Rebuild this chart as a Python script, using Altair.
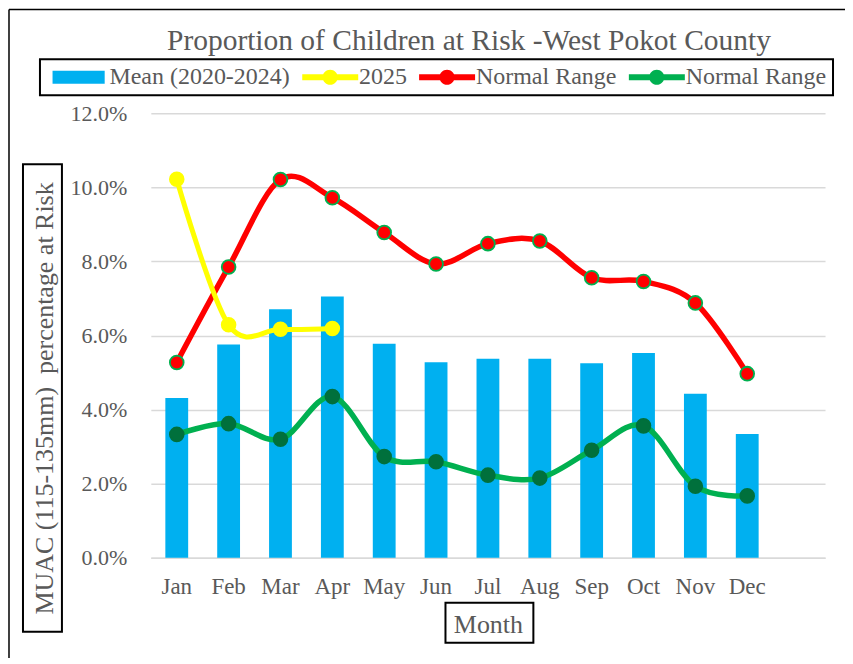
import altair as alt
import pandas as pd

# ---- data ----
months = ["Jan", "Feb", "Mar", "Apr", "May", "Jun", "Jul", "Aug", "Sep", "Oct", "Nov", "Dec"]
mean_2020_2024 = [4.31, 5.76, 6.71, 7.05, 5.78, 5.28, 5.37, 5.37, 5.25, 5.53, 4.43, 3.34]
year_2025 = [10.22, 6.29, 6.17, 6.19]
normal_upper = [5.27, 7.85, 10.21, 9.72, 8.78, 7.93, 8.48, 8.55, 7.56, 7.46, 6.88, 4.97]
normal_lower = [3.33, 3.62, 3.20, 4.35, 2.73, 2.59, 2.23, 2.15, 2.90, 3.56, 1.93, 1.67]

series_keys = ["mean", "y2025", "upper", "lower"]
series_colors = ["#00B0F0", "#FFFF00", "#FF0000", "#00B050"]
point_fill = {"y2025": "#FFFF00", "upper": "#FF0000", "lower": "#00703C"}
point_stroke = {"y2025": "#FFFF00", "upper": "#00B050", "lower": "#00703C"}
x_domain = months + [""]
y_ticks = [0, 0.02, 0.04, 0.06, 0.08, 0.10, 0.12]

FONT = "Liberation Serif"
GREY = "#595959"


def frame(key, values):
    return pd.DataFrame({
        "month": months[:len(values)],
        "value": [v / 100 for v in values],
        "series": key,
        "pfill": point_fill.get(key, ""),
        "pstroke": point_stroke.get(key, ""),
    })


bars_df = frame("mean", mean_2020_2024)
y25_df = frame("y2025", year_2025)
up_df = frame("upper", normal_upper)
lo_df = frame("lower", normal_lower)

rect_path = "M-0.45,-0.54H3.9V0.54H-0.45Z"
line_path = ("M-0.45,-0.25H4.22V0.25H-0.45Z "
             "M2.51,0A0.63,0.63 0 1 1 1.25,0A0.63,0.63 0 1 1 2.51,0Z")

x_enc = alt.X(
    "month:N",
    scale=alt.Scale(domain=x_domain, paddingInner=0.56, paddingOuter=0.28),
    axis=alt.Axis(labelAngle=0, labelFontSize=23, labelColor=GREY, labelFont=FONT,
                  labelPadding=18, ticks=False, domain=True, domainColor="#D9D9D9",
                  domainWidth=1.5, grid=False, titleFontSize=26, titleColor=GREY,
                  titleFont=FONT, titleFontWeight="normal", titleY=75,
                  titleBaseline="alphabetic"),
    title="Month",
)
y_enc = alt.Y(
    "value:Q",
    scale=alt.Scale(domain=[0, 0.12], nice=False),
    axis=alt.Axis(format=".1%", values=y_ticks, labelFontSize=22, labelColor=GREY,
                  labelFont=FONT, labelPadding=24, ticks=False, tickSize=0, domain=False,
                  grid=True, gridColor="#D9D9D9", gridWidth=1.5, titleFontSize=26,
                  titleColor=GREY, titleFont=FONT, titleFontWeight="normal",
                  titleAngle=270, titleAlign="center", titleBaseline="alphabetic",
                  titleX=-98, titleY=285),
    title="MUAC (115-135mm)\u00a0 percentage at Risk",
)

legend = alt.Legend(
    title=None, orient="none", legendX=-111, legendY=-54, direction="horizontal",
    columns=4, symbolType=alt.ExprRef(
        expr=f"datum.value === 'mean' ? '{rect_path}' : '{line_path}'"),
    symbolSize=576, symbolStrokeWidth=0, symbolOpacity=1,
    labelExpr=("datum.value === 'mean' ? 'Mean (2020-2024)' : "
               "datum.value === 'y2025' ? '2025' : 'Normal Range'"),
    labelFontSize=24, labelFont=FONT, labelColor=GREY, labelLimit=400,
    labelOffset=39.5, columnPadding=5, padding=6, strokeColor="black",
)
color_enc = alt.Color("series:N", scale=alt.Scale(domain=series_keys, range=series_colors),
                      legend=legend)

bars = alt.Chart(bars_df).mark_bar().encode(x=x_enc, y=y_enc, color=color_enc)


def line_layer(df, width):
    line = alt.Chart(df).mark_line(interpolate="cardinal", strokeWidth=width).encode(
        x=x_enc, y=y_enc, color=color_enc)
    pts = alt.Chart(df).mark_point(filled=True, size=190, opacity=1, strokeWidth=1.8).encode(
        x=x_enc, y=y_enc,
        fill=alt.Fill("pfill:N", scale=None, legend=None),
        stroke=alt.Stroke("pstroke:N", scale=None, legend=None))
    return [line, pts]


one = pd.DataFrame({"a": [0]})
boxes = [
    # outer chart frame: only its top and left edges are visible in the reference
    alt.Chart(one).mark_rule(stroke="#000000", strokeWidth=1.5).encode(
        x=alt.value(-142), x2=alt.value(700), y=alt.value(-104)),
    alt.Chart(one).mark_rule(stroke="#000000", strokeWidth=1.5).encode(
        x=alt.value(-142), y=alt.value(-104), y2=alt.value(560)),
    # y title box
    alt.Chart(one).mark_rect(filled=False, stroke="#000000", strokeWidth=2).encode(
        x=alt.value(-128), x2=alt.value(-89), y=alt.value(51), y2=alt.value(519)),
    # x title box
    alt.Chart(one).mark_rect(filled=False, stroke="#000000", strokeWidth=2).encode(
        x=alt.value(295), x2=alt.value(383), y=alt.value(490), y2=alt.value(530)),
]

chart = alt.layer(
    bars,
    *line_layer(lo_df, 5.5),
    *line_layer(up_df, 5.5),
    *line_layer(y25_df, 5),
    *boxes,
).properties(
    width=675, height=445,
    padding={"left": 143, "top": 105, "right": 20, "bottom": 100},
    autosize=alt.AutoSizeParams(type="none"),
    title=alt.TitleParams(
        text="Proportion of Children at Risk -West Pokot County",
        font=FONT, fontSize=29.5, fontWeight="normal", color=GREY,
        anchor="middle", frame="group", baseline="alphabetic", dx=-19, dy=79, offset=8),
).configure(font=FONT).configure_view(stroke=None).configure_legend(
    strokeWidth=2, labelFont=FONT)

chart.save("out.html", embed_options={"renderer": "svg", "actions": False})
